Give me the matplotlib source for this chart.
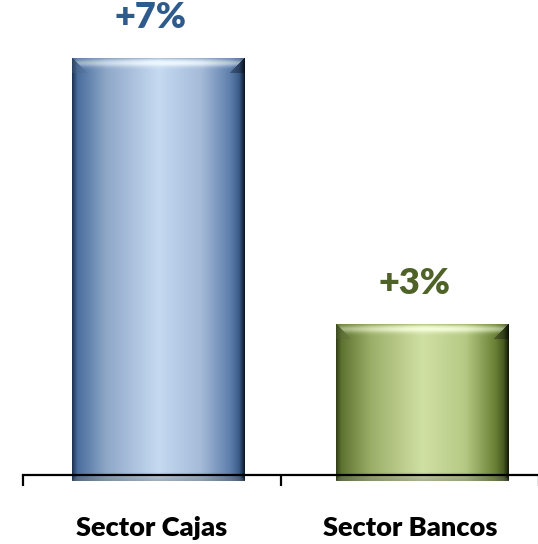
import numpy as np
import matplotlib
matplotlib.use("Agg")
import matplotlib.pyplot as plt
from matplotlib.colors import to_rgb

# Growth by sector
categories = ["Sector Cajas", "Sector Bancos"]
growth = [7, 3]
value_labels = ["+7%", "+3%"]

label_colors = ["#2F5A8C", "#4F6228"]
# horizontal shading profiles (position, colour) for each bar
profiles = [
    [(0.00, "#1E3556"), (0.03, "#4A6E9E"), (0.20, "#8FA8C8"), (0.50, "#C6DAF1"),
     (0.75, "#A4BAD8"), (0.92, "#5C7DAB"), (0.97, "#3A5A88"), (1.00, "#0E1A2C")],
    [(0.00, "#34421A"), (0.03, "#5F7330"), (0.20, "#9BAE68"), (0.50, "#D0E0A4"),
     (0.75, "#B6C984"), (0.92, "#6B8236"), (0.97, "#4A5C22"), (1.00, "#151C07")],
]
edge_tints = ["#6C88B0", "#7A8C4E"]
glow_tints = ["#F0F9FF", "#F6FFDC"]

DPI = 100
fig = plt.figure(figsize=(5.38, 5.44), dpi=DPI)
W_PX, H_PX = 538, 544
ax = fig.add_axes([23 / W_PX, (H_PX - 481) / H_PX, 516 / W_PX, 481 / H_PX])

x = np.arange(len(categories))
bar_shift = [0.025, 0.05]
bar_width = 0.67
ax.set_xlim(-0.5, len(categories) - 0.5)
ax.set_ylim(0.64, 7.87)

font = "Lato"


def shade_image(stops, edge, glow_col, w, h, top_bevel=16, bot_bevel=9):
    pos = np.array([s[0] for s in stops])
    cols = np.array([to_rgb(s[1]) for s in stops])
    xs = np.linspace(0, 1, w)
    prof = np.stack([np.interp(xs, pos, cols[:, k]) for k in range(3)], axis=-1)
    img = np.repeat(prof[None, :, :], h, axis=0)
    rr, cc = np.mgrid[0:h, 0:w]
    xn = cc / max(w - 1, 1)
    edge = np.array(to_rgb(edge))
    glow_col = np.array(to_rgb(glow_col))
    # top bevel: soft highlight band
    band = (rr < top_bevel) & (cc >= rr) & (cc <= w - 1 - rr)
    g_v = np.exp(-((rr - 5.5) / 3.6) ** 2)
    g_h = 0.45 + 0.55 * np.exp(-((xn - 0.55) / 0.32) ** 2)
    glow = 0.95 * g_v * g_h
    top_edge = np.clip(1 - rr / 3.0, 0, 1) * 0.6
    sel = band
    base = img[sel] * (1 - top_edge[sel][:, None]) + edge * top_edge[sel][:, None]
    img[sel] = base * (1 - glow[sel][:, None]) + glow_col * glow[sel][:, None]
    # side facets of the bevel
    left = (rr < top_bevel) & (cc < rr) & (cc < w / 2)
    img[left] = img[left] * 0.7 + edge * 0.22
    right = (rr < top_bevel) & (cc > w - 1 - rr) & (cc >= w / 2)
    img[right] = img[right] * 0.7
    # bottom bevel: greyish lip along the base
    rb = h - 1 - rr
    bband = (rb < bot_bevel) & (cc >= rb) & (cc <= w - 1 - rb)
    tb = rb / bot_bevel
    dark = 0.4 * (1 - tb)
    grey = np.array([0.6, 0.62, 0.6])
    img[bband] = img[bband] * (1 - dark[bband][:, None]) + grey * dark[bband][:, None] * 0.7
    return np.clip(img, 0, 1)


y_lo = ax.get_ylim()[0]
for i, (xi, v) in enumerate(zip(x, growth)):
    xc = xi + bar_shift[i]
    bars = ax.bar(xc, v, width=bar_width, color="none", edgecolor="none", zorder=2)
    patch = bars.patches[0]
    p0 = ax.transData.transform((xc - bar_width / 2, y_lo))
    p1 = ax.transData.transform((xc + bar_width / 2, v))
    w = max(int(round(p1[0] - p0[0])), 2)
    h = max(int(round(p1[1] - p0[1])), 2)
    img = shade_image(profiles[i], edge_tints[i], glow_tints[i], w, h)
    im = ax.imshow(img, extent=(xc - bar_width / 2, xc + bar_width / 2, y_lo, v),
                   aspect="auto", interpolation="bilinear", origin="upper", zorder=2)
    im.set_clip_path(patch)
    ax.annotate(value_labels[i], xy=(xc, v), xytext=(-6, 17), textcoords="offset points",
                ha="center", va="bottom", fontsize=26, fontweight="heavy",
                color=label_colors[i], family=font, annotation_clip=False)

ax.set_xlim(-0.5, len(categories) - 0.5)
ax.set_ylim(0.64, 7.87)

for s in ["top", "right", "left"]:
    ax.spines[s].set_visible(False)
ax.spines["bottom"].set_position(("outward", -4))
ax.spines["bottom"].set_linewidth(1.6)
ax.spines["bottom"].set_zorder(3)
ax.set_yticks([])
ax.set_xticks(np.arange(len(categories) + 1) - 0.5)
ax.set_xticklabels([])
ax.set_xticks(x, minor=True)
ax.set_xticklabels(categories, minor=True, fontsize=19.5, fontweight="heavy", family=font)
ax.tick_params(axis="x", which="major", length=8, width=1.6, direction="out")
ax.tick_params(axis="x", which="minor", length=0, pad=29)
ax.patch.set_alpha(0)

fig.savefig("out.png", dpi=DPI)
